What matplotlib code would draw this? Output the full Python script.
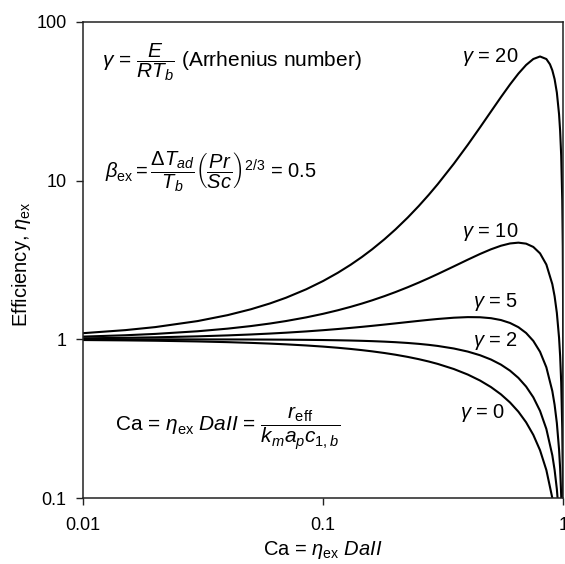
import matplotlib
matplotlib.use("Agg")
import matplotlib.pyplot as plt

plt.rcParams["font.family"] = ["Liberation Sans", "DejaVu Sans"]
plt.rcParams["mathtext.fontset"] = "custom"
plt.rcParams["mathtext.rm"] = "Liberation Sans"
plt.rcParams["mathtext.it"] = "Liberation Sans:italic"
plt.rcParams["mathtext.bf"] = "Liberation Sans:bold"

# Carberry number Ca = eta_ex * DaII
ca = [0.01, 0.015, 0.02, 0.03, 0.04, 0.05, 0.06, 0.07, 0.085, 0.1, 0.115, 0.13,
      0.145, 0.16, 0.18, 0.2, 0.225, 0.25, 0.275, 0.3, 0.35, 0.4, 0.45, 0.5,
      0.55, 0.6, 0.65, 0.7, 0.75, 0.8, 0.85, 0.9, 0.92, 0.94, 0.96]
eta_g0 = [0.99, 0.985, 0.98, 0.97, 0.96, 0.95, 0.94, 0.93, 0.915, 0.9, 0.885, 0.87,
          0.855, 0.84, 0.82, 0.8, 0.775, 0.75, 0.725, 0.7, 0.65, 0.6, 0.55, 0.5,
          0.45, 0.4, 0.35, 0.3, 0.25, 0.2, 0.15, 0.1, 0.08, 0.06, 0.04]
eta_g2 = [0.9999, 0.9998, 0.9996, 0.9991, 0.9984, 0.9975, 0.9964, 0.9951, 0.9927,
          0.9899, 0.9867, 0.9830, 0.9788, 0.9741, 0.9672, 0.9595, 0.9487, 0.9366,
          0.9233, 0.9086, 0.8755, 0.8374, 0.7941, 0.7459, 0.6927, 0.6346, 0.5716,
          0.5039, 0.4314, 0.3542, 0.2724, 0.1860, 0.1502, 0.1137, 0.0765]

ca_g5 = [0.01, 0.015, 0.02, 0.03, 0.04, 0.05, 0.06, 0.07, 0.085, 0.1, 0.115, 0.13,
         0.145, 0.16, 0.18, 0.2, 0.225, 0.25, 0.275, 0.3, 0.35, 0.4, 0.45, 0.5,
         0.55, 0.6, 0.65, 0.7, 0.75, 0.8, 0.85, 0.9, 0.92, 0.94, 0.96, 0.97, 0.98,
         0.99]
eta_g5 = [1.0149, 1.0224, 1.0297, 1.0444, 1.0589, 1.0732, 1.0874, 1.1013, 1.1219,
          1.1420, 1.1615, 1.1805, 1.1988, 1.2165, 1.2391, 1.2604, 1.2850, 1.3072,
          1.3269, 1.3438, 1.3687, 1.3806, 1.3779, 1.3591, 1.3230, 1.2681, 1.1931,
          1.0967, 0.9776, 0.8346, 0.6664, 0.4720, 0.3866, 0.2968, 0.2025, 0.1536,
          0.1036, 0.0524]

ca_g10 = [0.01, 0.015, 0.02, 0.03, 0.04, 0.05, 0.06, 0.07, 0.085, 0.1, 0.115, 0.13,
          0.145, 0.16, 0.18, 0.2, 0.225, 0.25, 0.275, 0.3, 0.35, 0.4, 0.45, 0.5,
          0.55, 0.6, 0.65, 0.7, 0.75, 0.8, 0.85, 0.9, 0.92, 0.94, 0.96, 0.97, 0.98,
          0.99, 0.995, 0.998]
eta_g10 = [1.0405, 1.0611, 1.0820, 1.1245, 1.1680, 1.2124, 1.2578, 1.3042, 1.3755,
           1.4489, 1.5244, 1.6018, 1.6809, 1.7619, 1.8724, 1.9857, 2.1305, 2.2783,
           2.4283, 2.5797, 2.8823, 3.1767, 3.4519, 3.6945, 3.8897, 4.0205, 4.0675,
           4.0092, 3.8227, 3.4823, 2.9605, 2.2275, 1.8682, 1.4680, 1.0247, 0.7862,
           0.5361, 0.2741, 0.1386, 0.0558]

ca_g20 = [0.01, 0.015, 0.02, 0.03, 0.04, 0.05, 0.06, 0.07, 0.085, 0.1, 0.115, 0.13,
          0.145, 0.16, 0.18, 0.2, 0.225, 0.25, 0.275, 0.3, 0.35, 0.4, 0.45, 0.5,
          0.55, 0.6, 0.65, 0.7, 0.75, 0.8, 0.85, 0.88, 0.9, 0.92, 0.94, 0.96, 0.97,
          0.98, 0.99, 0.995, 0.998, 0.999, 0.9995, 0.9999]
eta_g20 = [1.0936, 1.1431, 1.1946, 1.3036, 1.4210, 1.5473, 1.6831, 1.8290, 2.0679,
           2.3327, 2.6256, 2.9488, 3.3046, 3.6956, 4.2756, 4.9285, 5.8567, 6.9209,
           8.1337, 9.507, 12.781, 16.819, 21.664, 27.299, 33.624, 40.410, 47.270,
           53.585, 58.45, 60.63, 58.43, 54.10, 49.62, 43.63, 35.91, 26.25, 20.60,
           14.37, 7.515, 3.842, 1.558, 0.7823, 0.392, 0.0785]

curve_labels = [r"$\gamma$ = 20", r"$\gamma$ = 10", r"$\gamma$ = 5",
                r"$\gamma$ = 2", r"$\gamma$ = 0"]

x_ticks = [0.01, 0.1, 1]
x_tick_labels = ["0.01", "0.1", "1"]
y_ticks = [0.1, 1, 10, 100]
y_tick_labels = ["0.1", "1", "10", "100"]

fig = plt.figure(figsize=(5.65, 5.64), dpi=100)
ax = fig.add_axes([0.147, 0.117, 0.850, 0.844])

for xs, ys in [(ca, eta_g0), (ca, eta_g2), (ca_g5, eta_g5),
               (ca_g10, eta_g10), (ca_g20, eta_g20)]:
    ax.plot(xs, ys, color="black", lw=1.5, solid_capstyle="butt")

ax.set_xscale("log")
ax.set_yscale("log")
ax.set_xlim(0.01, 1)
ax.set_ylim(0.1, 100)
ax.set_xticks(x_ticks)
ax.set_xticklabels(x_tick_labels)
ax.set_yticks(y_ticks)
ax.set_yticklabels(y_tick_labels)
ax.minorticks_off()
ax.tick_params(direction="out", length=5, width=1, labelsize=13,
               color="#222222")
ax.tick_params(axis="x", pad=9)
ax.tick_params(axis="y", pad=7)
for sp in ax.spines.values():
    sp.set_linewidth(1.1)
    sp.set_color("#222222")

ax.set_xlabel(r"Ca = $\eta_{\rm ex}$ $DaII$", fontsize=14.5, labelpad=3)
ax.set_ylabel(r"Efficiency, $\eta_{\rm ex}$", fontsize=14.5, labelpad=0)
ax.yaxis.set_label_coords(-0.105, 0.49)

# curve labels (axes-fraction positions, right-aligned)
label_pos = [(0.906, 0.926), (0.906, 0.559), (0.906, 0.412), (0.906, 0.330),
             (0.879, 0.179)]
for (lx, ly), txt in zip(label_pos, curve_labels):
    ax.text(lx, ly, txt, fontsize=14.5, ha="right", va="center",
            transform=ax.transAxes)

ax.text(0.040, 0.916,
        r"$\gamma$ = $\dfrac{E}{RT_b}$ (Arrhenius number)",
        fontsize=15, ha="left", va="center", transform=ax.transAxes)
ax.text(0.046, 0.685,
        r"$\beta_{\rm ex} = \dfrac{\Delta T_{ad}}{T_b}\left(\dfrac{Pr}{Sc}\right)^{2/3}$ = 0.5",
        fontsize=14.5, ha="left", va="center", transform=ax.transAxes)
ax.text(0.067, 0.147,
        r"Ca = $\eta_{\rm ex}$ $DaII$ = $\dfrac{r_{\rm eff}}{k_m a_p c_{1,b}}$",
        fontsize=15, ha="left", va="center", transform=ax.transAxes)

fig.savefig("out.png", dpi=100)
